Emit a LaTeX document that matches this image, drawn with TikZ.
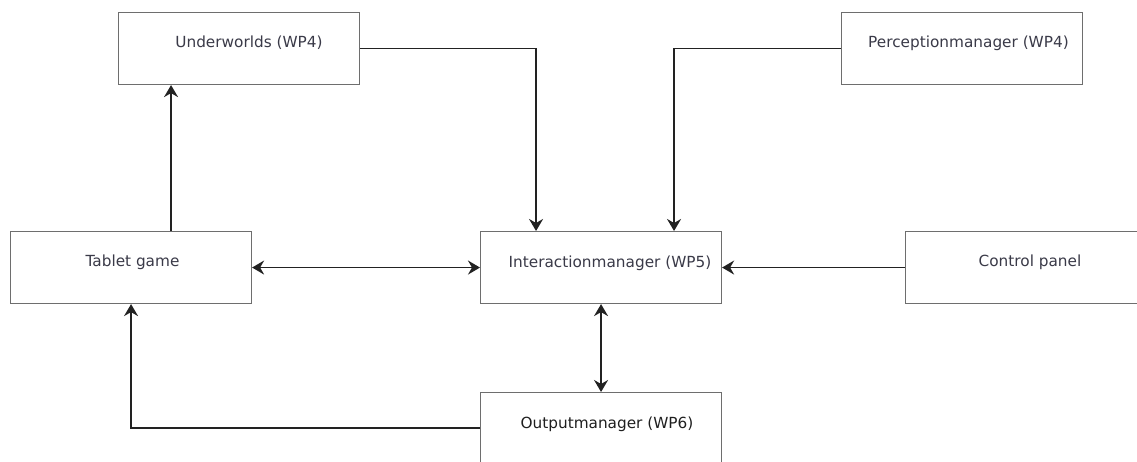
\documentclass[tikz,border=0pt]{standalone}
\usepackage{fontspec}
\setmainfont{DejaVu Sans}
\usetikzlibrary{arrows.meta}
\definecolor{txt}{HTML}{3A3A48}
\definecolor{frame}{HTML}{6E6E6E}
\definecolor{wire}{HTML}{222222}
\begin{document}
\begin{tikzpicture}[x=1pt,y=-1pt,
  box/.style={draw=frame,line width=1.1pt,minimum width=241pt,minimum height=72pt,inner sep=0pt,anchor=north west},
  lbl/.style={text=txt,font=\fontsize{15.3pt}{17pt}\selectfont,inner sep=0pt},
  tip/.tip={Stealth[length=12pt,width=14pt,inset=4pt]},
  conn/.style={draw=wire,line width=1.9pt,-tip},
  conn2/.style={draw=wire,line width=1.9pt,tip-tip}]
\useasboundingbox (0,0) rectangle (1137,462);
\clip (0,0) rectangle (1137,462);
\fill[white] (0,0) rectangle (1137,462);
% boxes
\node[box] (uw) at (118,12) {};
\node[box] (pm) at (841,12) {};
\node[box] (tg) at (10,231) {};
\node[box] (im) at (480,231) {};
\node[box] (cp) at (905,231) {};
\node[box] (om) at (480,392) {};
% labels
\node[lbl] (uwl) at (249,43) {Underworlds (WP4)};
\node[lbl] (pml) at (968.5,43) {Perceptionmanager (WP4)};
\node[lbl] (tgl) at (132.5,262) {Tablet game};
\node[lbl] (iml) at (610,263) {Interactionmanager (WP5)};
\node[lbl] (cpl) at (1030,262) {Control panel};
\node[lbl,text=black!88] (oml) at (607,424) {Outputmanager (WP6)};
% connectors
\draw[conn] (uw.east) -| ([xshift=-65pt]im.north);
\draw[conn] (pm.west) -| ([xshift=73pt]im.north);
\draw[conn] ([xshift=40pt]tg.north) -- ([xshift=-68pt]uw.south);
\draw[conn2] (tg.east) -- (im.west);
\draw[conn] (cp.west) -- (im.east);
\draw[conn2] (im.south) -- (om.north);
\draw[conn] ([yshift=1pt]om.west) -| (tg.south);
\end{tikzpicture}
\end{document}
